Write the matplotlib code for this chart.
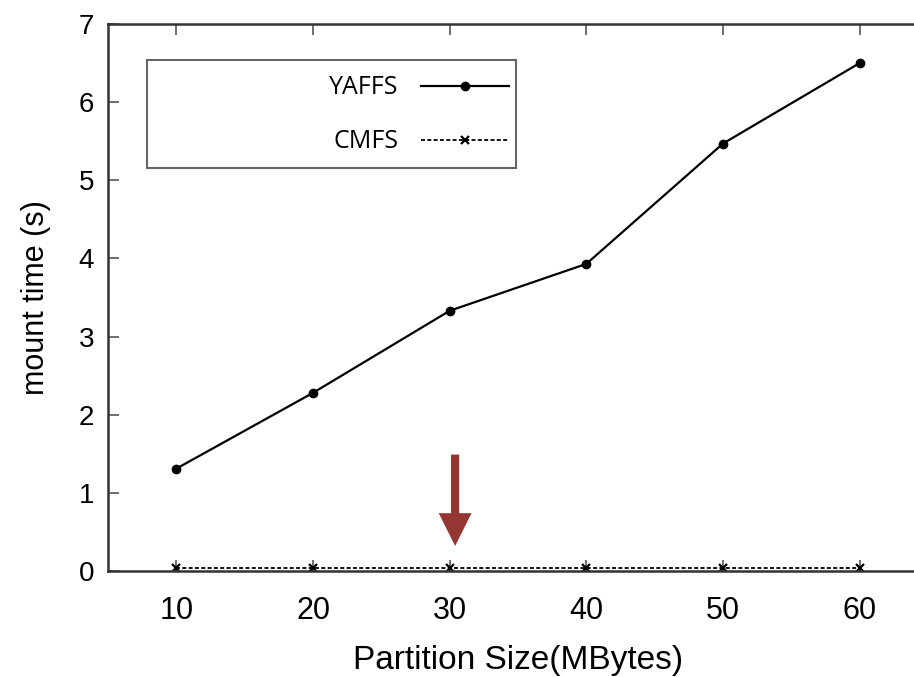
import matplotlib
matplotlib.use("Agg")
import matplotlib.pyplot as plt
from matplotlib.patches import Rectangle, FancyArrow

# data
partition_mb = [10, 20, 30, 40, 50, 60]
yaffs_mount = [1.31, 2.28, 3.33, 3.93, 5.47, 6.50]
cmfs_mount = [0.04, 0.04, 0.04, 0.04, 0.04, 0.04]
y_ticks = [0, 1, 2, 3, 4, 5, 6, 7]

W, H = 914, 677
fig = plt.figure(figsize=(W / 100, H / 100), dpi=100)
# axes runs past the right edge like the cropped original
ax = fig.add_axes([108 / W, 1 - 571 / H, (928 - 108) / W, (571 - 24) / H])
ax.set_xlim(5, 65)
ax.set_ylim(0, 7)

ax.plot(partition_mb, yaffs_mount, color="black", linewidth=1.6,
        marker="o", markersize=6, label="YAFFS")
ax.plot(partition_mb, cmfs_mount, color="black", linewidth=1.3,
        linestyle=(0, (2.2, 1.3)), marker="x", markersize=6,
        markeredgewidth=1.6, label="CMFS")

ax.set_xticks(partition_mb)
ax.set_yticks(y_ticks)
ax.tick_params(direction="in", length=8, width=1.2, color="#555555",
               top=True, right=False, labelsize=20)
ax.tick_params(axis="x", labelsize=22, pad=18)
ax.tick_params(axis="y", pad=10)
for lab in ax.get_xticklabels() + ax.get_yticklabels():
    lab.set_family("Liberation Sans")
for sp in ax.spines.values():
    sp.set_linewidth(1.8)
    sp.set_color("#333333")

ax.set_xlabel("Partition Size(MBytes)", fontsize=24, family="Liberation Sans", labelpad=14)
ax.set_ylabel("mount time (s)", fontsize=22, family="Liberation Sans", labelpad=20)

# highlight arrow at 30 MB
ax.add_patch(FancyArrow(30.4, 1.49, 0, -1.17, width=0.6, head_width=2.4,
                        head_length=0.42, length_includes_head=True,
                        color="#943634", linewidth=0))

# legend box, gnuplot style
fig.patches.append(Rectangle((147 / W, 1 - 168 / H), (516 - 147) / W, (168 - 60) / H,
                             transform=fig.transFigure, fill=False,
                             edgecolor="#666666", linewidth=1.5))
leg = ax.legend(loc="upper right", bbox_to_anchor=(531 / W, 1 - 53 / H),
                bbox_transform=fig.transFigure, frameon=False, markerfirst=False,
                handlelength=3.5, handletextpad=0.9, labelspacing=1.15,
                prop={"family": "Open Sans", "size": 18})

fig.savefig("out.png", dpi=100)
